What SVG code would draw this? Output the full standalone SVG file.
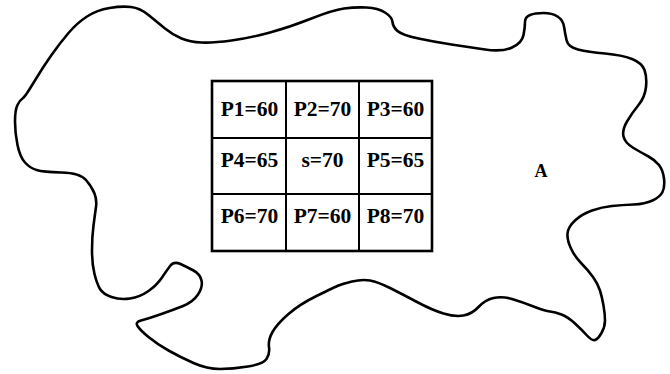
<svg xmlns="http://www.w3.org/2000/svg" width="670" height="374" viewBox="0 0 670 374">
<style>
.outline{fill:none;stroke:#000;stroke-width:2.6;stroke-linejoin:round}
.cell{fill:none;stroke:#000;stroke-width:2}
.frame{fill:none;stroke:#000;stroke-width:2.6}
.t{font-family:"Liberation Serif","Times New Roman",serif;font-weight:bold;font-size:21.5px;fill:#000;text-anchor:middle}
.a{font-family:"Liberation Serif","Times New Roman",serif;font-weight:bold;font-size:18px;fill:#000;text-anchor:middle}
</style>
<rect width="670" height="374" fill="#fff"/>
<g id="regionA">
<path class="outline" d="M22.5,98.5 Q25,97 34,82 Q43,67 51.5,55 Q60,43 68.5,33 Q77,23 87,16.5 Q97,10 109.5,8 Q122,6 131,7 Q140,8 148.5,15 Q157,22 165,28.5 Q173,35 181.5,38.5 Q190,42 201.5,42.5 Q213,43 231.5,40.5 Q250,38 270,32.5 Q290,27 311.5,18.5 Q333,10 344,8.5 Q355,7 366.5,7.5 Q378,8 385,12.5 Q392,17 392.5,22 Q393,27 397.5,31 Q402,35 418.5,38.5 Q435,42 451.5,44.5 Q468,47 485,49.5 Q502,52 512,47.5 Q522,43 523.5,35 Q525,27 525,22 Q525,17 530,15 Q535,13 543.5,13 Q552,13 557.5,16.5 Q563,20 564,26.5 Q565,33 566.5,40 Q568,47 578,49.5 Q588,52 605,53.5 Q622,55 632,59 Q642,63 644.5,70 Q647,77 646,87 Q645,97 638.5,105 Q632,113 627,121.5 Q622,130 623.5,136.5 Q625,143 633.5,148 Q642,153 648.5,156.5 Q655,160 659,165 Q663,170 664,178.5 Q665,187 662.5,192 Q660,197 652.5,200.5 Q645,204 633.5,204.5 Q622,205 612,206 Q602,207 592,210.5 Q582,214 575,220.5 Q568,227 567.5,233.5 Q567,240 571,248.5 Q575,257 581.5,263.5 Q588,270 593,277 Q598,284 600,290.5 Q602,297 603.5,305.5 Q605,314 605,320.5 Q605,327 601.5,333 Q598,339 595,340 Q592,341 587,335.5 Q582,330 575,323.5 Q568,317 561.5,314.5 Q555,312 550,311.5 Q545,311 533.5,306.5 Q522,302 512,299 Q502,296 493.5,298 Q485,300 478.5,307 Q472,314 463.5,315.5 Q455,317 443.5,313.5 Q432,310 417,302 Q402,294 390,288 Q378,282 370,280.5 Q362,279 352,281.5 Q342,284 338.5,285.5 Q335,287 317.5,295.5 Q300,304 288.5,314 Q277,324 272.5,332 Q268,340 269,347 Q270,354 266.5,359 Q263,364 248,366.5 Q233,369 220,369 Q207,369 193.5,363 Q180,357 168.5,350.5 Q157,344 148.5,337 Q140,330 137.5,326 Q135,322 141,320.5 Q147,319 160,314.5 Q173,310 183,306 Q193,302 198,294.5 Q203,287 201.5,280.5 Q200,274 193.5,270.5 Q187,267 180.5,264 Q174,261 170.5,265.5 Q167,270 162,277.5 Q157,285 148.5,291 Q140,297 130,298.5 Q120,300 111.5,297 Q103,294 100,289 Q97,284 94.5,274 Q92,264 92,250.5 Q92,237 93.5,225.5 Q95,214 96,207 Q97,200 94.5,193.5 Q92,187 86,180 Q80,173 61.5,172.5 Q43,172 36.5,170 Q30,168 25,162.5 Q20,157 17.5,145 Q15,133 15,121.5 Q15,110 17.5,105 Q20,100 22.5,98.5 Z"/>
<text class="a" x="541" y="177">A</text>
</g>
<g id="grid">
<line class="cell" x1="286" y1="81" x2="286" y2="251"/>
<line class="cell" x1="359" y1="81" x2="359" y2="251"/>
<line class="cell" x1="212" y1="138" x2="432" y2="138"/>
<line class="cell" x1="212" y1="194" x2="432" y2="194"/>
<rect class="frame" x="212" y="81" width="220" height="170"/>
</g>
<g id="P1"><text class="t" x="249.5" y="115.5">P1=60</text></g>
<g id="P2"><text class="t" x="322.5" y="115.5">P2=70</text></g>
<g id="P3"><text class="t" x="395.5" y="115.5">P3=60</text></g>
<g id="P4"><text class="t" x="249.5" y="166.5">P4=65</text></g>
<g id="s"><text class="t" x="322.5" y="166.5">s=70</text></g>
<g id="P5"><text class="t" x="395.5" y="166.5">P5=65</text></g>
<g id="P6"><text class="t" x="249.5" y="222.5">P6=70</text></g>
<g id="P7"><text class="t" x="322.5" y="222.5">P7=60</text></g>
<g id="P8"><text class="t" x="395.5" y="222.5">P8=70</text></g>
</svg>
